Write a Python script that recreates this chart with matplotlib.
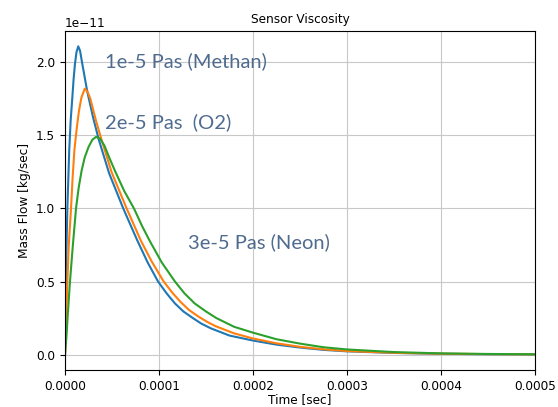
import numpy as np
import matplotlib
matplotlib.use('Agg')
import matplotlib.pyplot as plt

# time points in units of 1e-5 sec, mass flow in units of 1e-11 kg/sec
t_methan = [0, 0.05, 0.1, 0.18, 0.25, 0.35, 0.45, 0.6, 0.78, 0.92, 1.06, 1.22, 1.41,
            1.6, 1.84, 2.37, 3.0, 3.6, 4.7, 6.2, 7.7, 8.8, 9.9, 10.8, 11.7, 12.6, 13.6,
            14.5, 15.5, 17.5, 20, 22.5, 25, 27.5, 30, 35, 40, 45, 50]
m_methan = [0, 0.25, 0.5, 0.8, 1.0, 1.2, 1.4, 1.6, 1.76, 1.89, 1.99, 2.07, 2.11,
            2.08, 1.99, 1.8, 1.62, 1.47, 1.24, 1.0, 0.78, 0.63, 0.5, 0.42, 0.35, 0.295, 0.25,
            0.212, 0.18, 0.13, 0.096, 0.068, 0.048, 0.032, 0.022, 0.011, 0.005, 0.002, 0.001]

t_o2 = [0, 0.1, 0.25, 0.4, 0.64, 0.8, 1.0, 1.25, 1.49, 1.75, 2.1, 2.4, 2.7, 3.3,
        3.8, 4.95, 6.56, 8.07, 9.2, 10.5, 11.4, 12.3, 13.2, 14.2, 15.1, 16, 18, 20,
        22.5, 25, 27.5, 30, 35, 40, 45, 50]
m_o2 = [0, 0.2, 0.5, 0.75, 1.0, 1.2, 1.4, 1.55, 1.67, 1.76, 1.82, 1.8, 1.75, 1.6,
        1.49, 1.25, 1.0, 0.78, 0.64, 0.5, 0.425, 0.36, 0.305, 0.26, 0.225, 0.195, 0.145, 0.11,
        0.077, 0.053, 0.036, 0.024, 0.012, 0.006, 0.003, 0.001]

t_neon = [0, 0.15, 0.3, 0.53, 0.8, 1.17, 1.45, 1.77, 2.1, 2.5, 2.9, 3.3, 3.7, 4.2,
          4.7, 5.3, 6.3, 7.34, 8.2, 9.0, 10.3, 11.7, 12.7, 13.8, 15.0, 16.1, 18, 20,
          22.5, 25, 27.5, 30, 35, 40, 45, 50]
m_neon = [0, 0.12, 0.28, 0.5, 0.72, 1.0, 1.14, 1.26, 1.35, 1.42, 1.47, 1.49, 1.48, 1.43,
          1.35, 1.26, 1.12, 1.0, 0.88, 0.78, 0.63, 0.5, 0.42, 0.35, 0.295, 0.25, 0.19, 0.15,
          0.105, 0.075, 0.05, 0.035, 0.017, 0.008, 0.004, 0.002]

labels = ['1e-5 Pas (Methan)', '2e-5 Pas  (O2)', '3e-5 Pas (Neon)']

plt.rcParams['font.size'] = 8.7
fig = plt.figure(figsize=(5.58, 4.07), dpi=100)
ax = fig.add_axes([0.1165, 0.091, 0.842, 0.833])

for t, m in [(t_methan, m_methan), (t_o2, m_o2), (t_neon, m_neon)]:
    ax.plot(np.array(t) * 1e-5, np.array(m) * 1e-11, lw=1.5)

ax.set_xlim(0, 0.0005)
ax.set_title('Sensor Viscosity', fontsize=8.7)
ax.set_xlabel('Time [sec]', labelpad=0)
ax.set_ylabel('Mass Flow [kg/sec]')
ax.grid(True, color='#c8c8c8')
ax.xaxis.set_major_formatter(plt.FormatStrFormatter('%.4f'))

txt = dict(fontsize=14.5, color='#4f6b8f', family=['Lato', 'DejaVu Sans'], va='center')
ax.text(4.26e-5, 2.01e-11, labels[0], **txt)
ax.text(4.26e-5, 1.59e-11, labels[1], **txt)
ax.text(13.1e-5, 0.77e-11, labels[2], **txt)

fig.savefig('out.png', dpi=100)
